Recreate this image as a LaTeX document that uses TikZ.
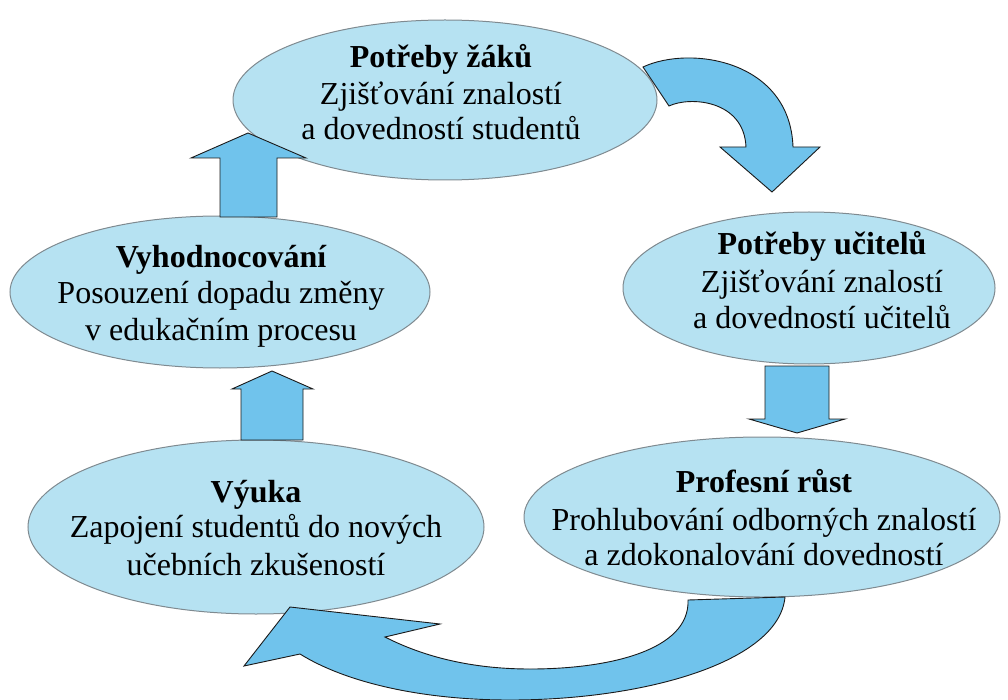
\documentclass[tikz,border=0pt]{standalone}
\usepackage{fontspec}
\setmainfont{Liberation Serif}
\usetikzlibrary{shapes.geometric}
\definecolor{bubfill}{HTML}{B6E2F2}
\definecolor{bubline}{HTML}{7F8A90}
\definecolor{arrfill}{HTML}{70C3EC}
\definecolor{arrline}{HTML}{1A1A1A}
\begin{document}
\begin{tikzpicture}[x=1pt,y=-1pt,
  bubble/.style={ellipse, draw=bubline, fill=bubfill, line width=1pt, inner sep=0pt},
  txt/.style={anchor=base, inner sep=0pt, font=\fontsize{32}{36}\selectfont},
  ttl/.style={anchor=base, inner sep=0pt, font=\fontsize{32}{36}\selectfont\bfseries},
  blockarrow/.style={fill=arrfill, draw=arrline, line width=0.9pt, line join=miter}]
\useasboundingbox (0,0) rectangle (1008,700);

% ellipses
\node[bubble, minimum width=424pt, minimum height=160pt] (zaci) at (445,100) {};
\node[bubble, minimum width=372pt, minimum height=152pt] (ucitele) at (809,288) {};
\node[bubble, minimum width=476pt, minimum height=160pt] (rust) at (762,517) {};
\node[bubble, minimum width=456pt, minimum height=174pt] (vyuka) at (256,527) {};
\node[bubble, minimum width=420pt, minimum height=152pt] (hodn) at (220,292) {};

% texts
\node[ttl] (zaci1) at (441,68) {Potřeby žáků};
\node[txt] (zaci2) at (441,105) {Zjišťování znalostí};
\node[txt] (zaci3) at (441,140) {a dovedností studentů};

\node[ttl] (uc1) at (822,255) {Potřeby učitelů};
\node[txt] (uc2) at (822,292) {Zjišťování znalostí};
\node[txt] (uc3) at (822,328) {a dovedností učitelů};

\node[ttl] (ru1) at (764,492) {Profesní růst};
\node[txt] (ru2) at (764,530) {Prohlubování odborných znalostí};
\node[txt] (ru3) at (764,565) {a zdokonalování dovedností};

\node[ttl] (vy1) at (256,502) {Výuka};
\node[txt] (vy2) at (256,537) {Zapojení studentů do nových};
\node[txt] (vy3) at (256,575) {učebních zkušeností};

\node[ttl] (ho1) at (221,268) {Vyhodnocování};
\node[txt] (ho2) at (221,303) {Posouzení dopadu změny};
\node[txt] (ho3) at (221,340) {v edukačním procesu};

% block arrows
% hodnoceni -> zaci (up)
\draw[blockarrow] (220,217) -- (220,158) -- (191,158) -- (248,133) -- (306,158) -- (277,158) -- (277,217) -- cycle;
% vyuka -> hodnoceni (up)
\draw[blockarrow] (241,440) -- (241,389) -- (232,389) -- (272,371) -- (313,389) -- (303,389) -- (303,440) -- cycle;
% ucitele -> rust (down)
\draw[blockarrow] (765,366) -- (765,419) -- (749,419) -- (797,433) -- (845,419) -- (829,419) -- (829,366) -- cycle;
% zaci -> ucitele (curved)
\draw[blockarrow] (643,67) .. controls (690,45) and (790,60) .. (793,147)
  -- (820,147) -- (772,192) -- (720,147) -- (746,147)
  .. controls (744,100) and (690,96) .. (669,106) -- cycle;
% rust -> vyuka (curved)
\draw[blockarrow] (785,597) .. controls (779,662) and (645,700) .. (510,700)
  .. controls (420,700) and (345,682) .. (300,654)
  -- (244,666) -- (290,607) -- (440,624) -- (385,637)
  .. controls (430,660) and (480,669) .. (530,669)
  .. controls (610,669) and (690,650) .. (688,600) -- cycle;
\end{tikzpicture}
\end{document}
